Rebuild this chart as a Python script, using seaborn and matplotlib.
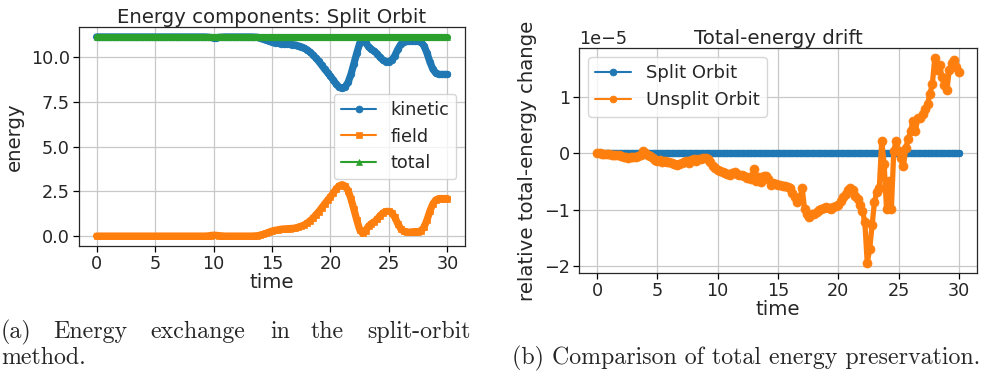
import numpy as np
import pandas as pd
import matplotlib
matplotlib.use("Agg")
import matplotlib.pyplot as plt
import seaborn as sns

# ---------------- data ----------------
# left panel: time grid 0..30 step 0.25 (121 samples)
time_a = np.linspace(0, 30, 121)
field = [
    0.00, 0.00, 0.00, 0.00, 0.00, 0.00, 0.00, 0.00,   # 0 - 1.75
    0.00, 0.00, 0.00, 0.00, 0.00, 0.00, 0.00, 0.00,   # 2 - 3.75
    0.00, 0.00, 0.00, 0.00, 0.00, 0.00, 0.00, 0.00,   # 4 - 5.75
    0.00, 0.00, 0.00, 0.00, 0.00, 0.00, 0.00, 0.00,   # 6 - 7.75
    0.00, 0.00, 0.00, 0.00, 0.00, 0.00, 0.01, 0.03,   # 8 - 9.75
    0.05, 0.04, 0.02, 0.01, 0.00, 0.00, 0.00, 0.00,   # 10 - 11.75
    0.00, 0.00, 0.00, 0.00, 0.00, 0.00, 0.01, 0.02,   # 12 - 13.75
    0.05, 0.10, 0.15, 0.22, 0.28, 0.32, 0.35, 0.38,   # 14 - 15.75
    0.40, 0.41, 0.42, 0.43, 0.45, 0.50, 0.55, 0.62,   # 16 - 17.75
    0.72, 0.85, 1.00, 1.18, 1.37, 1.58, 1.80, 2.00,   # 18 - 19.75
    2.20, 2.42, 2.65, 2.82, 2.88, 2.80, 2.55, 2.10,   # 20 - 21.75
    1.50, 0.90, 0.35, 0.15, 0.30, 0.55, 0.70, 0.80,   # 22 - 23.75
    0.95, 1.15, 1.30, 1.38, 1.38, 1.30, 1.05, 0.70,   # 24 - 25.75
    0.42, 0.27, 0.22, 0.22, 0.24, 0.25, 0.25, 0.30,   # 26 - 27.75
    0.50, 0.90, 1.40, 1.80, 2.02, 2.10, 2.10, 2.10,   # 28 - 29.75
    2.10,                                             # 30
]
kinetic = [
    11.15, 11.15, 11.15, 11.15, 11.15, 11.15, 11.15, 11.15,
    11.15, 11.15, 11.15, 11.15, 11.15, 11.15, 11.15, 11.15,
    11.15, 11.15, 11.15, 11.15, 11.15, 11.15, 11.15, 11.15,
    11.15, 11.15, 11.15, 11.15, 11.15, 11.15, 11.15, 11.15,
    11.15, 11.15, 11.15, 11.15, 11.15, 11.15, 11.14, 11.12,
    11.10, 11.11, 11.13, 11.14, 11.15, 11.15, 11.15, 11.15,
    11.15, 11.15, 11.15, 11.15, 11.15, 11.15, 11.14, 11.13,
    11.10, 11.05, 11.00, 10.93, 10.87, 10.83, 10.80, 10.77,
    10.75, 10.74, 10.73, 10.72, 10.70, 10.65, 10.60, 10.53,
    10.43, 10.30, 10.15, 9.97, 9.78, 9.57, 9.35, 9.15,
    8.95, 8.73, 8.50, 8.33, 8.27, 8.35, 8.60, 9.05,
    9.65, 10.25, 10.80, 11.00, 10.85, 10.60, 10.45, 10.35,
    10.20, 10.00, 9.85, 9.77, 9.77, 9.85, 10.10, 10.45,
    10.73, 10.88, 10.93, 10.93, 10.91, 10.90, 10.90, 10.85,
    10.65, 10.25, 9.75, 9.35, 9.13, 9.05, 9.05, 9.05,
    9.05,
]
total = [
    11.15, 11.15, 11.15, 11.15, 11.15, 11.15, 11.15, 11.15,
    11.15, 11.15, 11.15, 11.15, 11.15, 11.15, 11.15, 11.15,
    11.15, 11.15, 11.15, 11.15, 11.15, 11.15, 11.15, 11.15,
    11.15, 11.15, 11.15, 11.15, 11.15, 11.15, 11.15, 11.15,
    11.15, 11.15, 11.15, 11.15, 11.15, 11.15, 11.15, 11.15,
    11.15, 11.15, 11.15, 11.15, 11.15, 11.15, 11.15, 11.15,
    11.15, 11.15, 11.15, 11.15, 11.15, 11.15, 11.15, 11.15,
    11.15, 11.15, 11.15, 11.15, 11.15, 11.15, 11.15, 11.15,
    11.15, 11.15, 11.15, 11.15, 11.15, 11.15, 11.15, 11.15,
    11.15, 11.15, 11.15, 11.15, 11.15, 11.15, 11.15, 11.15,
    11.15, 11.15, 11.15, 11.15, 11.15, 11.15, 11.15, 11.15,
    11.15, 11.15, 11.15, 11.15, 11.15, 11.15, 11.15, 11.15,
    11.15, 11.15, 11.15, 11.15, 11.15, 11.15, 11.15, 11.15,
    11.15, 11.15, 11.15, 11.15, 11.15, 11.15, 11.15, 11.15,
    11.15, 11.15, 11.15, 11.15, 11.15, 11.15, 11.15, 11.15,
    11.15,
]

# right panel: time grid 0..30 step 0.2 (151 samples), values in units of 1e-5
time_b = np.linspace(0, 30, 151)
split_drift = [
    0.0, 0.0, 0.0, 0.0, 0.0, 0.0, 0.0, 0.0, 0.0, 0.0,
    0.0, 0.0, 0.0, 0.0, 0.0, 0.0, 0.0, 0.0, 0.0, 0.0,
    0.0, 0.0, 0.0, 0.0, 0.0, 0.0, 0.0, 0.0, 0.0, 0.0,
    0.0, 0.0, 0.0, 0.0, 0.0, 0.0, 0.0, 0.0, 0.0, 0.0,
    0.0, 0.0, 0.0, 0.0, 0.0, 0.0, 0.0, 0.0, 0.0, 0.0,
    0.0, 0.0, 0.0, 0.0, 0.0, 0.0, 0.0, 0.0, 0.0, 0.0,
    0.0, 0.0, 0.0, 0.0, 0.0, 0.0, 0.0, 0.0, 0.0, 0.0,
    0.0, 0.0, 0.0, 0.0, 0.0, 0.0, 0.0, 0.0, 0.0, 0.0,
    0.0, 0.0, 0.0, 0.0, 0.0, 0.0, 0.0, 0.0, 0.0, 0.0,
    0.0, 0.0, 0.0, 0.0, 0.0, 0.0, 0.0, 0.0, 0.0, 0.0,
    0.0, 0.0, 0.0, 0.0, 0.0, 0.0, 0.0, 0.0, 0.0, 0.0,
    0.0, 0.0, 0.0, 0.0, 0.0, 0.0, 0.0, 0.0, 0.0, 0.0,
    0.0, 0.0, 0.0, 0.0, 0.0, 0.0, 0.0, 0.0, 0.0, 0.0,
    0.0, 0.0, 0.0, 0.0, 0.0, 0.0, 0.0, 0.0, 0.0, 0.0,
    0.0, 0.0, 0.0, 0.0, 0.0, 0.0, 0.0, 0.0, 0.0, 0.0,
    0.0,
]
unsplit_drift = [
    0.00, 0.00, -0.01, -0.01, -0.02,      # 0 - 0.8
    -0.02, -0.03, -0.03, -0.04, -0.04,    # 1
    -0.05, -0.06, -0.07, -0.08, -0.07,    # 2
    -0.07, -0.06, -0.05, -0.03, 0.03,     # 3
    0.01, -0.03, -0.05, -0.09, -0.12,     # 4
    -0.13, -0.12, -0.15, -0.14, -0.15,    # 5
    -0.16, -0.18, -0.20, -0.21, -0.19,    # 6
    -0.17, -0.15, -0.13, -0.17, -0.12,    # 7
    -0.11, -0.13, -0.10, -0.11, -0.08,    # 8
    -0.08, -0.10, -0.16, -0.22, -0.27,    # 9
    -0.29, -0.31, -0.33, -0.35, -0.37,    # 10
    -0.38, -0.36, -0.34, -0.37, -0.39,    # 11
    -0.38, -0.41, -0.44, -0.42, -0.46,    # 12
    -0.28, -0.50, -0.42, -0.51, -0.40,    # 13
    -0.41, -0.46, -0.56, -0.53, -0.55,    # 14
    -0.56, -0.57, -0.59, -0.58, -0.60,    # 15
    -0.62, -0.70, -0.78, -0.86, -0.82,    # 16
    -0.62, -0.98, -1.08, -1.13, -1.08,    # 17
    -1.07, -1.04, -1.01, -0.99, -0.97,    # 18
    -0.95, -0.97, -0.98, -0.96, -0.94,    # 19
    -0.92, -0.85, -0.78, -0.72, -0.66,    # 20
    -0.62, -0.66, -0.75, -0.82, -0.92,    # 21
    -1.02, -1.22, -1.94, -1.70, -1.28,    # 22
    -0.86, -0.68, -0.62, 0.22, -0.20,     # 23
    -0.98, -0.50, -0.98, 0.04, 0.22,      # 24
    0.04, -0.08, -0.23, 0.10, 0.25,       # 25
    0.40, 0.57, 0.40, 0.63, 0.62,         # 26
    0.69, 0.78, 0.87, 1.05, 1.23,         # 27
    1.68, 1.47, 1.56, 1.35, 1.20,         # 28
    1.11, 1.47, 1.60, 1.65, 1.53,         # 29
    1.44,                                 # 30
]
drift_scale = 1e-5

# ---------------- style ----------------
sns.set_theme(style="ticks")
plt.rcParams["font.family"] = ["DejaVu Sans"]
F_TITLE = 14.2
F_LABEL = 14.2
F_TICK = 12.7
F_LEG = 12.7
C0, C1, C2 = "#1f77b4", "#ff7f0e", "#2ca02c"

fig = plt.figure(figsize=(9.81, 3.75), dpi=100)
ax1 = fig.add_axes([79 / 981, 1 - 246 / 375, 386 / 981, 219 / 375])
ax2 = fig.add_axes([579 / 981, 1 - 273 / 375, 398 / 981, 225 / 375])

band_kw = dict(linewidth=5.2, markersize=4.8, markeredgewidth=0.5,
               solid_capstyle="round", solid_joinstyle="round")

df_a = pd.DataFrame({"time": time_a, "kinetic": kinetic, "field": field, "total": total})
sns.lineplot(data=df_a, x="time", y="kinetic", ax=ax1, color=C0, marker="o",
             mec=C0, label="kinetic", **band_kw)
sns.lineplot(data=df_a, x="time", y="field", ax=ax1, color=C1, marker="s",
             mec=C1, label="field", **band_kw)
sns.lineplot(data=df_a, x="time", y="total", ax=ax1, color=C2, marker="^",
             mec=C2, label="total", **band_kw)
ax1.set_title("Energy components: Split Orbit", fontsize=F_TITLE, pad=3)
ax1.set_xlabel("time", fontsize=F_LABEL, labelpad=0)
ax1.set_ylabel("energy", fontsize=F_LABEL, labelpad=5)
ax1.set_xticks([0, 5, 10, 15, 20, 25, 30])
ax1.set_yticks([0.0, 2.5, 5.0, 7.5, 10.0])
ax1.set_yticklabels(["0.0", "2.5", "5.0", "7.5", "10.0"])
leg1 = ax1.legend(loc="center right", fontsize=F_LEG, frameon=True)

df_b = pd.DataFrame({"time": time_b,
                     "split": np.array(split_drift) * drift_scale,
                     "unsplit": np.array(unsplit_drift) * drift_scale})
sns.lineplot(data=df_b, x="time", y="split", ax=ax2, color=C0, marker="o",
             mec=C0, label="Split Orbit", **band_kw)
sns.lineplot(data=df_b, x="time", y="unsplit", ax=ax2, color=C1, marker="o",
             mec=C1, label="Unsplit Orbit", linewidth=3.8, markersize=6.5,
             markeredgewidth=0.5, solid_joinstyle="round", solid_capstyle="round")
ax2.set_title("Total-energy drift", fontsize=F_TITLE, pad=3)
ax2.set_xlabel("time", fontsize=F_LABEL, labelpad=0)
ax2.set_ylabel("relative total-energy change", fontsize=F_LABEL, labelpad=5)
ax2.set_xticks([0, 5, 10, 15, 20, 25, 30])
leg2 = ax2.legend(loc="upper left", fontsize=13, frameon=True)
ax2.yaxis.get_offset_text().set_fontsize(F_TICK)

for leg in (leg1, leg2):
    for ln in leg.get_lines():
        ln.set_linewidth(1.5)
        ln.set_markersize(5)

for ax in (ax1, ax2):
    ax.grid(True, color="#c8c8c8", linewidth=0.9)
    ax.set_axisbelow(True)
    ax.tick_params(labelsize=F_TICK, length=4, width=0.9, color="black", pad=2.5)
    for s in ax.spines.values():
        s.set_color("#262626")
        s.set_linewidth(0.9)

# ---------------- captions ----------------
cap_kw = dict(fontsize=17.2, family=["cmr10", "DejaVu Serif"], va="baseline")
words_a = ["(a)", "Energy", "exchange", "in", "the"]
xs_a = [1, 53, 150, 270, 311]
for w, x in zip(words_a, xs_a):
    fig.text(x / 981, 1 - 338 / 375, w, ha="left", **cap_kw)
fig.text(471 / 981, 1 - 338 / 375, "split-orbit", ha="right", **cap_kw)
fig.text(1 / 981, 1 - 364 / 375, "method.", ha="left", **cap_kw)
fig.text(980 / 981, 1 - 364 / 375, "(b) Comparison of total energy preservation.",
         ha="right", **cap_kw)

fig.savefig("out.png", dpi=100)
